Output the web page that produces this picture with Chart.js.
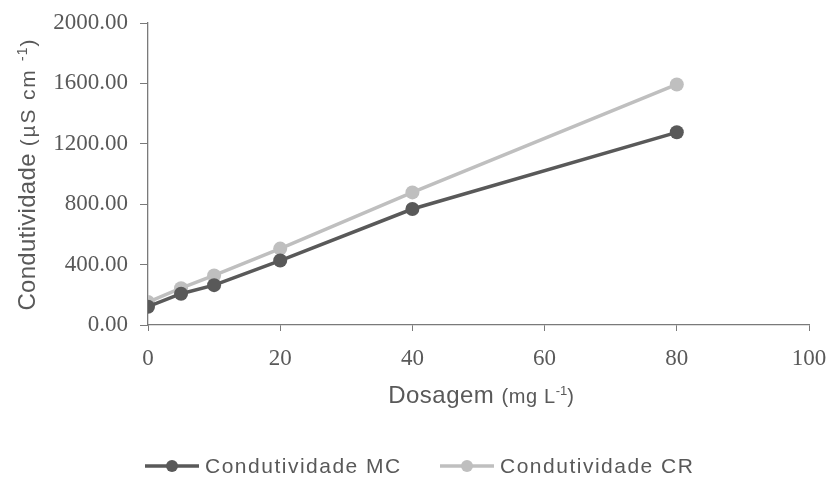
<!DOCTYPE html>
<html>
<head>
<meta charset="utf-8">
<script src="https://cdn.jsdelivr.net/npm/chart.js@4"></script>
<style>
  html, body { margin: 0; padding: 0; background: #fff; }
  #wrap { width: 828px; height: 477px; position: relative; }
</style>
</head>
<body>
<div id="wrap"><canvas id="cond"></canvas></div>
<script>
/* ── Condutividade x Dosagem ── */

// ── Data ──
const dosagem = [0, 5, 10, 20, 40, 80];
const condMC = [121, 207, 264, 427, 768, 1276];
const condCR = [152, 244, 328, 506, 878, 1593];
const serieNames = ['Condutividade MC', 'Condutividade CR'];
const serieColors = ['#595959', '#bfbfbf'];
const yTicks = [0, 400, 800, 1200, 1600, 2000];
const xTicks = [0, 20, 40, 60, 80, 100];

const TXT = '#595959';
const AXIS = '#7a7a7a';
const SANS = '"Liberation Sans", Arial, sans-serif';
const SERIF = '"Liberation Serif", serif';

// draw a run of [text, size, raise, spacing] pieces, centered on (x, y)
function drawRuns(ctx, runs, x, y) {
  let total = 0;
  runs.forEach(r => {
    ctx.font = `${r[1]}px ${SANS}`;
    ctx.letterSpacing = (r[3] || 0) + 'px';
    total += ctx.measureText(r[0]).width;
  });
  let cx = x - total / 2;
  ctx.textAlign = 'left';
  ctx.textBaseline = 'alphabetic';
  runs.forEach(r => {
    ctx.font = `${r[1]}px ${SANS}`;
    ctx.letterSpacing = (r[3] || 0) + 'px';
    ctx.fillText(r[0], cx, y - (r[2] || 0));
    cx += ctx.measureText(r[0]).width;
  });
  ctx.letterSpacing = '0px';
}

const decor = {
  id: 'decor',
  afterDraw(chart) {
    const ctx = chart.ctx;
    ctx.save();
    ctx.fillStyle = TXT;

    // y title
    ctx.save();
    ctx.translate(35, 175);
    ctx.rotate(-Math.PI / 2);
    drawRuns(ctx, [['Condutividade ', 24, 0, 0.3], ['(µS cm ', 21, 0, 1.8], ['-1', 14, 8, 1], [')', 21]], 0, 0);
    ctx.restore();

    // x title
    drawRuns(ctx, [['Dosagem ', 24, 0, 0.5], ['(mg L', 20, 0, 0.6], ['-1', 13, 8], [')', 20]], 481, 403);

    // legend
    const items = [[145, 205], [440, 500]];
    items.forEach((it, i) => {
      const ly = 466;
      ctx.strokeStyle = serieColors[i];
      ctx.lineWidth = 3.5;
      ctx.beginPath();
      ctx.moveTo(it[0], ly);
      ctx.lineTo(it[0] + 54, ly);
      ctx.stroke();
      ctx.fillStyle = serieColors[i];
      ctx.beginPath();
      ctx.arc(it[0] + 27, ly, 6, 0, Math.PI * 2);
      ctx.fill();
      ctx.fillStyle = TXT;
      ctx.font = `21px ${SANS}`;
      ctx.letterSpacing = '1.5px';
      ctx.textAlign = 'left';
      ctx.textBaseline = 'middle';
      ctx.fillText(serieNames[i], it[1], ly + 1);
      ctx.letterSpacing = '0px';
    });
    ctx.restore();
  }
};

function mkSet(label, vals, color) {
  return {
    label,
    data: dosagem.map((d, i) => ({ x: d, y: vals[i] })),
    borderColor: color,
    backgroundColor: color,
    borderWidth: 3.5,
    pointRadius: 7,
    pointHoverRadius: 7,
    pointBorderWidth: 0,
    tension: 0,
  };
}

new Chart(document.getElementById('cond'), {
  type: 'line',
  data: {
    datasets: [
      mkSet(serieNames[0], condMC, serieColors[0]),
      mkSet(serieNames[1], condCR, serieColors[1]),
    ]
  },
  options: {
    responsive: true,
    maintainAspectRatio: false,
    animation: false,
    layout: { padding: { top: 23, right: 19, left: 0, bottom: 0 } },
    plugins: { legend: { display: false }, tooltip: { enabled: false } },
    scales: {
      x: {
        type: 'linear',
        min: 0, max: 100,
        afterBuildTicks: s => { s.ticks = xTicks.map(v => ({ value: v })); },
        afterFit: s => { s.height = 152; s.paddingLeft = 0; s.paddingRight = 0; },
        border: { color: AXIS, width: 1.3 },
        grid: { drawOnChartArea: false, drawTicks: true, tickLength: 6, color: AXIS },
        ticks: { color: TXT, font: { family: SERIF, size: 23 }, padding: 14 }
      },
      y: {
        min: 0, max: 2000,
        afterBuildTicks: s => { s.ticks = yTicks.map(v => ({ value: v })); },
        afterFit: s => { s.width = 148; s.paddingTop = 0; s.paddingBottom = 0; },
        border: { color: AXIS, width: 1.3 },
        grid: { drawOnChartArea: false, drawTicks: true, tickLength: 8, color: AXIS },
        ticks: { color: TXT, font: { family: SERIF, size: 23 }, padding: 12,
                 callback: v => v.toFixed(2) }
      }
    }
  },
  plugins: [decor]
});
</script>
</body>
</html>
